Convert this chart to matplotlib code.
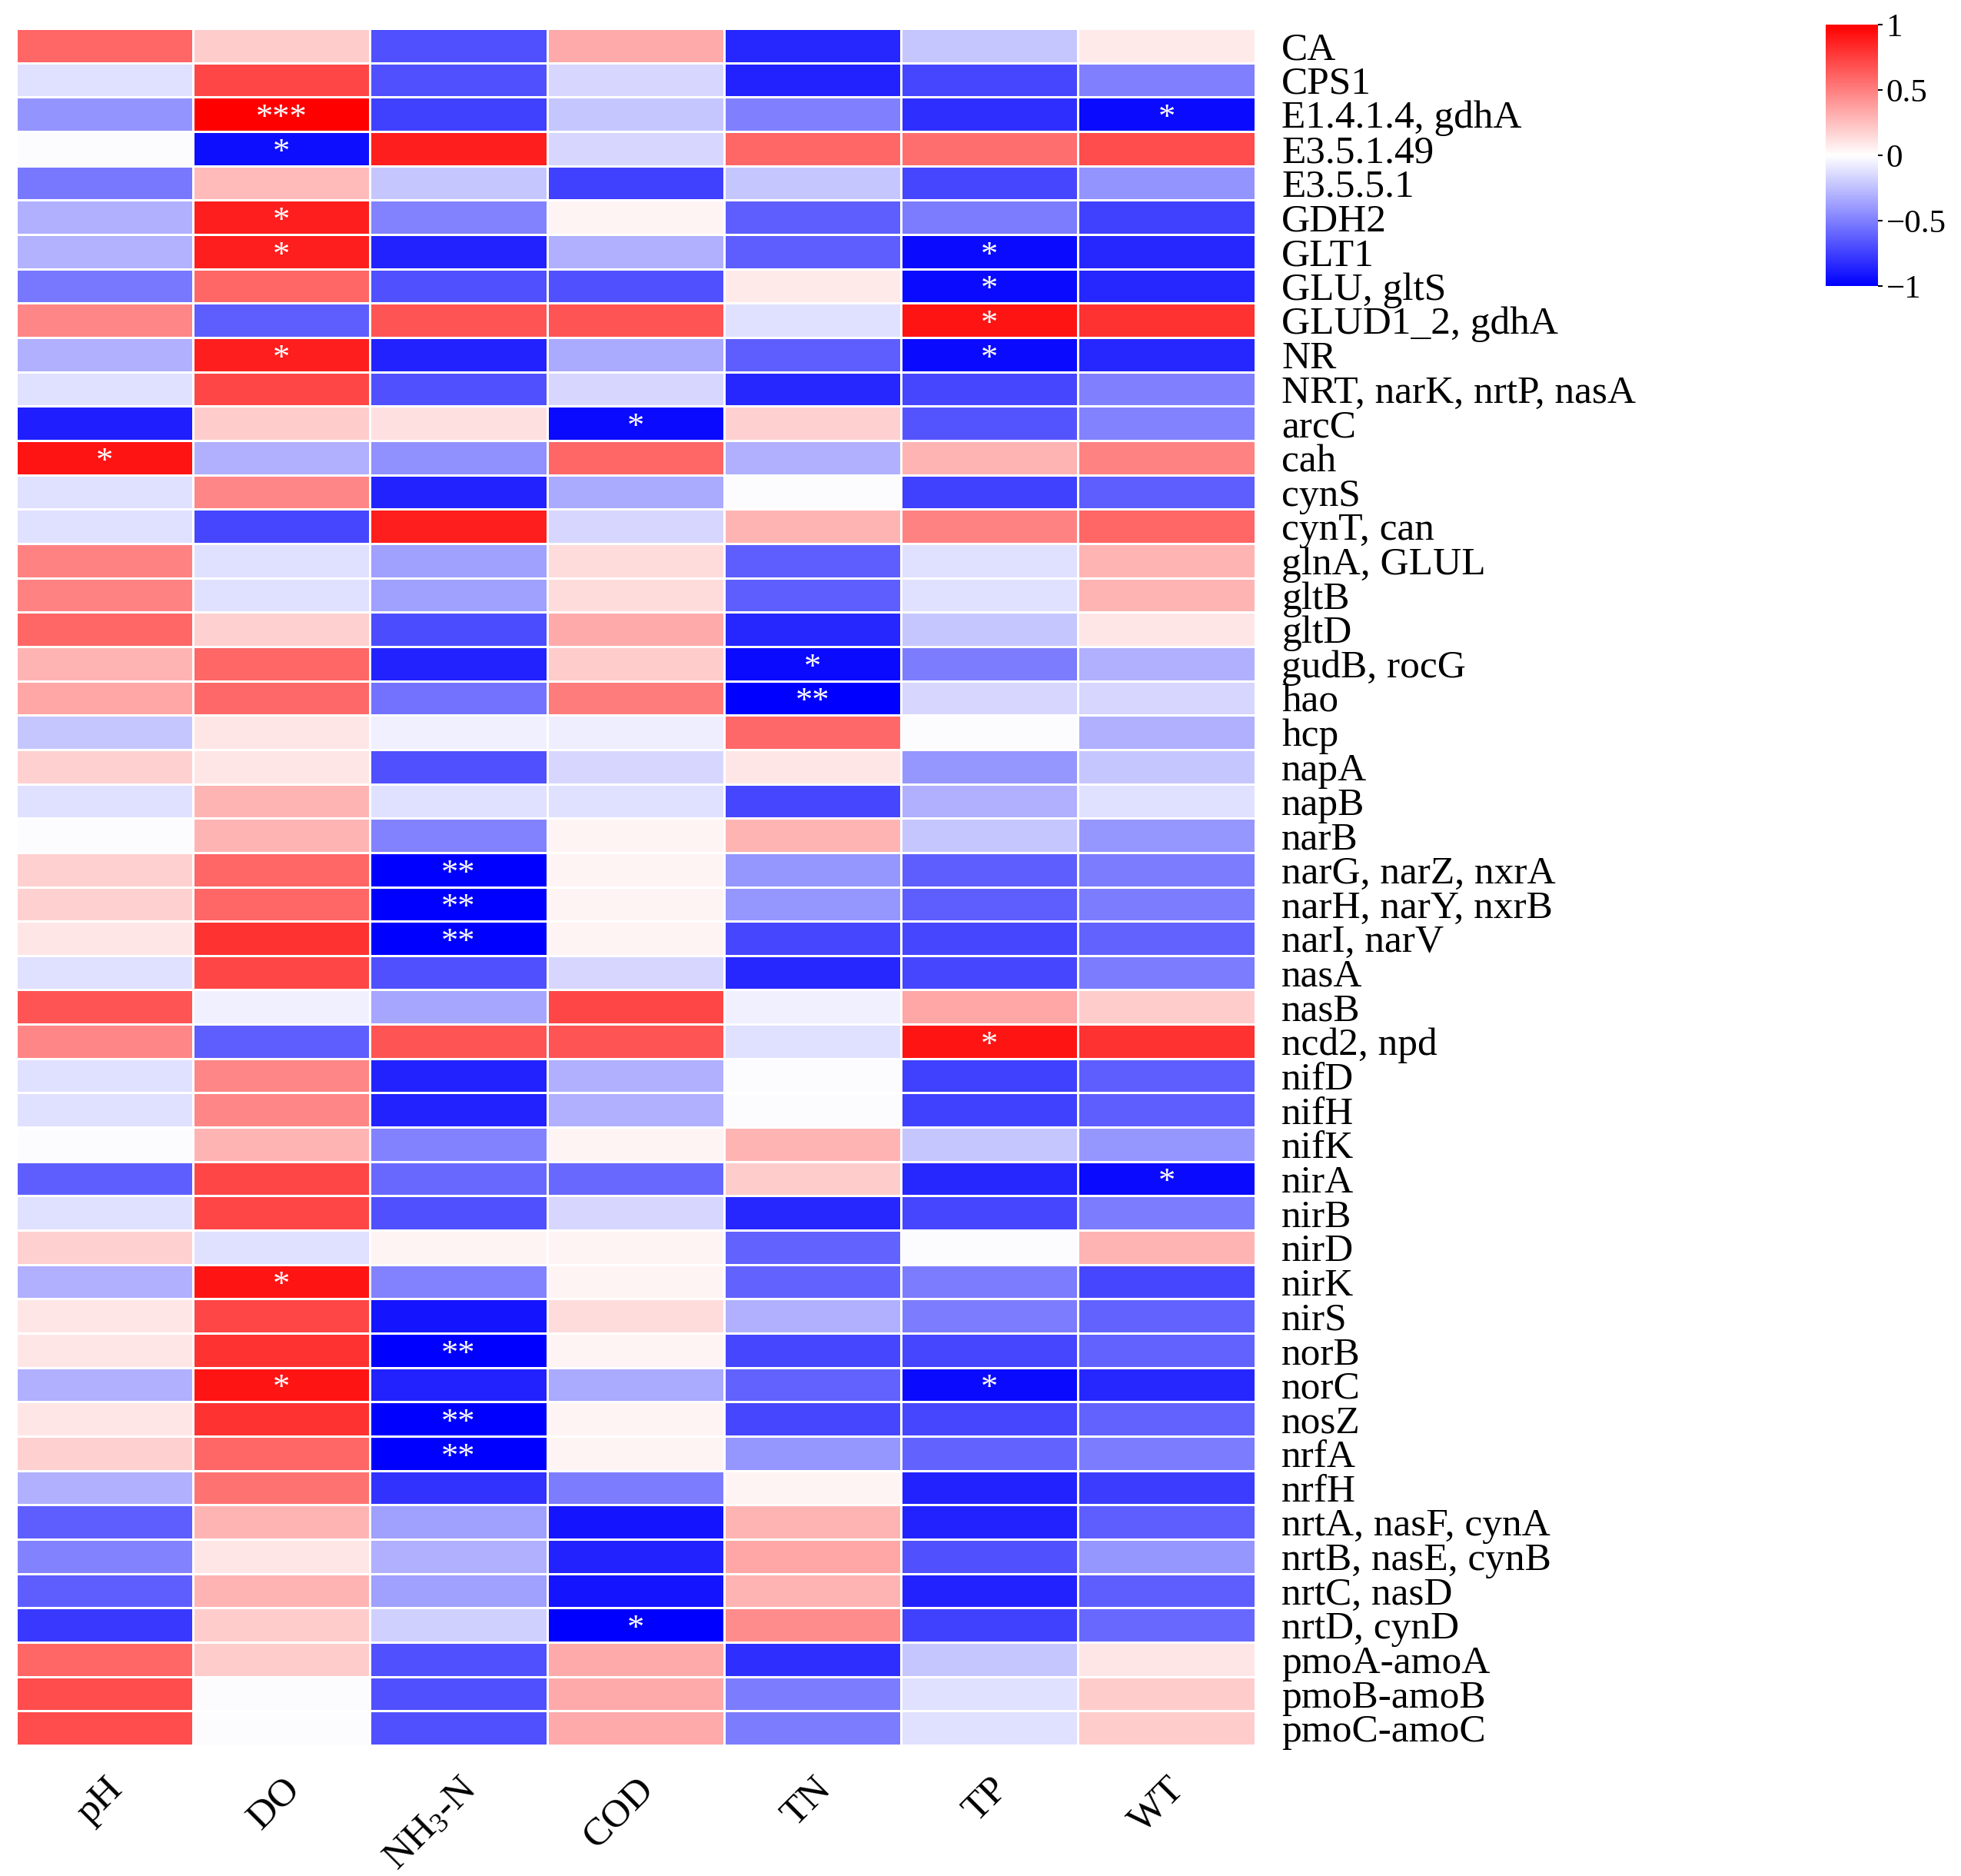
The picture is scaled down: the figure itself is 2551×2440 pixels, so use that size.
import numpy as np
import matplotlib
matplotlib.use('Agg')
import matplotlib.pyplot as plt

plt.rcParams['font.family'] = ['Liberation Serif', 'DejaVu Serif']
plt.rcParams['mathtext.default'] = 'regular'

genes = ['CA', 'CPS1', 'E1.4.1.4, gdhA', 'E3.5.1.49', 'E3.5.5.1', 'GDH2', 'GLT1', 'GLU, gltS',
         'GLUD1_2, gdhA', 'NR', 'NRT, narK, nrtP, nasA', 'arcC', 'cah', 'cynS', 'cynT, can',
         'glnA, GLUL', 'gltB', 'gltD', 'gudB, rocG', 'hao', 'hcp', 'napA', 'napB', 'narB',
         'narG, narZ, nxrA', 'narH, narY, nxrB', 'narI, narV', 'nasA', 'nasB', 'ncd2, npd',
         'nifD', 'nifH', 'nifK', 'nirA', 'nirB', 'nirD', 'nirK', 'nirS', 'norB', 'norC', 'nosZ',
         'nrfA', 'nrfH', 'nrtA, nasF, cynA', 'nrtB, nasE, cynB', 'nrtC, nasD', 'nrtD, cynD',
         'pmoA-amoA', 'pmoB-amoB', 'pmoC-amoC']
factors = ['pH', 'DO', r'NH$_3$-N', 'COD', 'TN', 'TP', 'WT']

ph = [0.6, -0.12, -0.42, -0.01, -0.53, -0.31, -0.3, -0.53, 0.47, -0.31, -0.12, -0.88, 0.92, -0.12, -0.12,
      0.49, 0.49, 0.6, 0.29, 0.35, -0.22, 0.18, -0.12, -0.01, 0.18, 0.18, 0.1, -0.12, 0.67, 0.47,
      -0.12, -0.12, -0.01, -0.63, -0.12, 0.18, -0.31, 0.1, 0.1, -0.31, 0.1, 0.18, -0.31, -0.63, -0.49,
      -0.63, -0.78, 0.6, 0.7, 0.7]
do = [0.2, 0.72, 1.0, -0.94, 0.27, 0.88, 0.88, 0.6, -0.63, 0.88, 0.72, 0.2, -0.31, 0.47, -0.72,
      -0.12, -0.12, 0.18, 0.6, 0.59, 0.1, 0.1, 0.29, 0.29, 0.6, 0.6, 0.8, 0.72, -0.06, -0.63,
      0.47, 0.47, 0.29, 0.72, 0.72, -0.12, 0.92, 0.72, 0.8, 0.92, 0.8, 0.6, 0.55, 0.29, 0.1,
      0.29, 0.2, 0.2, -0.01, -0.01]
nh3 = [-0.68, -0.68, -0.75, 0.88, -0.22, -0.49, -0.86, -0.68, 0.67, -0.86, -0.68, 0.12, -0.43, -0.86, 0.88,
       -0.37, -0.37, -0.7, -0.86, -0.55, -0.06, -0.68, -0.12, -0.49, -1.0, -1.0, -1.0, -0.68, -0.35, 0.67,
       -0.86, -0.86, -0.49, -0.59, -0.68, 0.04, -0.49, -0.92, -1.0, -0.86, -1.0, -1.0, -0.8, -0.37, -0.31,
       -0.37, -0.18, -0.68, -0.68, -0.68]
cod = [0.33, -0.16, -0.22, -0.16, -0.75, 0.04, -0.31, -0.68, 0.67, -0.33, -0.16, -0.96, 0.6, -0.33, -0.16,
       0.14, 0.14, 0.33, 0.2, 0.51, -0.07, -0.16, -0.12, 0.04, 0.04, 0.04, 0.04, -0.16, 0.72, 0.67,
       -0.31, -0.31, 0.04, -0.59, -0.16, 0.04, 0.04, 0.14, 0.04, -0.33, 0.04, 0.04, -0.51, -0.92, -0.86,
       -0.92, -1.0, 0.33, 0.33, 0.33]
tn = [-0.85, -0.86, -0.5, 0.6, -0.22, -0.63, -0.63, 0.08, -0.12, -0.63, -0.85, 0.18, -0.31, -0.01, 0.29,
      -0.63, -0.63, -0.85, -0.96, -1.0, 0.59, 0.1, -0.72, 0.29, -0.41, -0.41, -0.72, -0.85, -0.06, -0.12,
      -0.01, -0.01, 0.29, 0.2, -0.85, -0.61, -0.61, -0.31, -0.72, -0.61, -0.72, -0.41, 0.04, 0.29, 0.35,
      0.29, 0.45, -0.82, -0.51, -0.51]
tp = [-0.22, -0.72, -0.82, 0.57, -0.72, -0.51, -0.96, -0.96, 0.92, -0.96, -0.72, -0.67, 0.29, -0.75, 0.49,
      -0.12, -0.12, -0.22, -0.51, -0.16, -0.01, -0.41, -0.31, -0.22, -0.63, -0.63, -0.72, -0.72, 0.35, 0.92,
      -0.75, -0.75, -0.22, -0.85, -0.72, -0.01, -0.51, -0.51, -0.72, -0.96, -0.72, -0.61, -0.86, -0.86, -0.68,
      -0.86, -0.75, -0.22, -0.12, -0.12]
wt = [0.08, -0.5, -0.96, 0.7, -0.42, -0.75, -0.85, -0.85, 0.8, -0.85, -0.5, -0.49, 0.49, -0.63, 0.6,
      0.29, 0.29, 0.1, -0.31, -0.16, -0.31, -0.22, -0.12, -0.41, -0.51, -0.51, -0.61, -0.51, 0.2, 0.8,
      -0.63, -0.63, -0.41, -0.96, -0.51, 0.29, -0.72, -0.61, -0.61, -0.85, -0.61, -0.51, -0.76, -0.63, -0.41,
      -0.63, -0.59, 0.1, 0.2, 0.2]

# significance marks: (gene, factor index, stars)
signif = [('E1.4.1.4, gdhA', 1, '***'), ('E1.4.1.4, gdhA', 6, '*'), ('E3.5.1.49', 1, '*'),
          ('GDH2', 1, '*'), ('GLT1', 1, '*'), ('GLT1', 5, '*'), ('GLU, gltS', 5, '*'),
          ('GLUD1_2, gdhA', 5, '*'), ('NR', 1, '*'), ('NR', 5, '*'), ('arcC', 3, '*'),
          ('cah', 0, '*'), ('gudB, rocG', 4, '*'), ('hao', 4, '**'), ('narG, narZ, nxrA', 2, '**'),
          ('narH, narY, nxrB', 2, '**'), ('narI, narV', 2, '**'), ('ncd2, npd', 5, '*'),
          ('nirA', 6, '*'), ('nirK', 1, '*'), ('norB', 2, '**'), ('norC', 1, '*'), ('norC', 5, '*'),
          ('nosZ', 2, '**'), ('nrfA', 2, '**'), ('nrtD, cynD', 3, '*')]

data = np.column_stack([ph, do, nh3, cod, tn, tp, wt])

fig = plt.figure(figsize=(25.51, 24.40), dpi=100)
ax = fig.add_axes([0.0082, 0.0697, 0.6318, 0.9151])
mesh = ax.pcolormesh(data, cmap='bwr', vmin=-1, vmax=1, edgecolors='white', linewidth=2)
ax.set_xlim(0, data.shape[1])
ax.set_ylim(data.shape[0], 0)

for g, c, s in signif:
    r = genes.index(g)
    ax.text(c + 0.5, r + 0.62, s, color='white', fontsize=32, ha='center', va='center')

ax.set_xticks(np.arange(len(factors)) + 0.5)
ax.set_xticklabels(factors, rotation=45, ha='right', rotation_mode='anchor', fontsize=37)
ax.set_yticks(np.arange(len(genes)) + 0.5)
ax.set_yticklabels(genes, fontsize=37)
ax.yaxis.tick_right()
ax.tick_params(axis='both', length=0)
ax.tick_params(axis='y', pad=25)
ax.tick_params(axis='x', pad=24)
for sp in ax.spines.values():
    sp.set_visible(False)

cax = fig.add_axes([0.931, 0.8475, 0.0267, 0.1393])
cb = fig.colorbar(mesh, cax=cax, ticks=[-1, -0.5, 0, 0.5, 1])
cb.ax.set_yticklabels(['\u22121', '\u22120.5', '0', '0.5', '1'])
cb.ax.tick_params(labelsize=31, length=4, width=1.5)
cb.outline.set_visible(False)

fig.savefig('out.png', dpi=100)
